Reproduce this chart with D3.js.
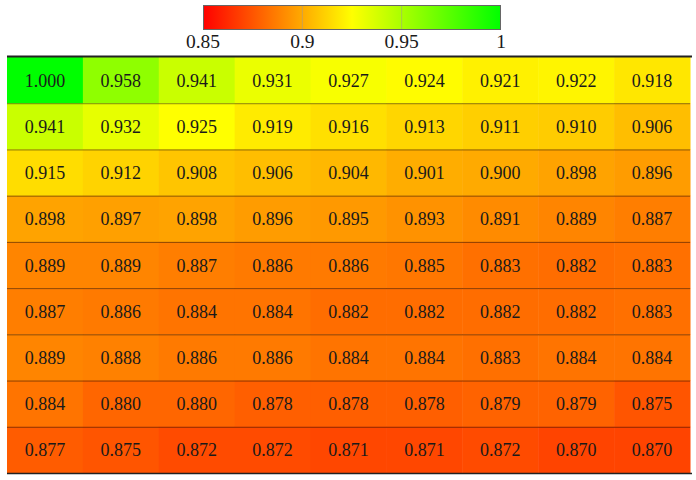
<!DOCTYPE html>
<html>
<head>
<meta charset="utf-8">
<script src="https://cdn.jsdelivr.net/npm/d3@7"></script>
<style>
  html, body { margin: 0; padding: 0; background: #fff; }
  svg { display: block; }
</style>
</head>
<body>
<svg id="chart" width="696" height="480"></svg>
<script>
const rows = ["r1","r2","r3","r4","r5","r6","r7","r8","r9"];
const cols = ["c1","c2","c3","c4","c5","c6","c7","c8","c9"];
const values = [
  [1.000, 0.958, 0.941, 0.931, 0.927, 0.924, 0.921, 0.922, 0.918],
  [0.941, 0.932, 0.925, 0.919, 0.916, 0.913, 0.911, 0.910, 0.906],
  [0.915, 0.912, 0.908, 0.906, 0.904, 0.901, 0.900, 0.898, 0.896],
  [0.898, 0.897, 0.898, 0.896, 0.895, 0.893, 0.891, 0.889, 0.887],
  [0.889, 0.889, 0.887, 0.886, 0.886, 0.885, 0.883, 0.882, 0.883],
  [0.887, 0.886, 0.884, 0.884, 0.882, 0.882, 0.882, 0.882, 0.883],
  [0.889, 0.888, 0.886, 0.886, 0.884, 0.884, 0.883, 0.884, 0.884],
  [0.884, 0.880, 0.880, 0.878, 0.878, 0.878, 0.879, 0.879, 0.875],
  [0.877, 0.875, 0.872, 0.872, 0.871, 0.871, 0.872, 0.870, 0.870]
];
const colorStops = [0.85, 0.925, 1.0];
const colorRange = ["#ff0000", "#ffff00", "#00ff00"];
const cbTicks = [0.85, 0.9, 0.95, 1];
const cbTickLabels = ["0.85", "0.9", "0.95", "1"];

const svg = d3.select("#chart");
const font = "'Liberation Serif', 'DejaVu Serif', serif";

const color = d3.scaleLinear().domain(colorStops).range(colorRange).clamp(true);

// grid geometry
const gx0 = 7, gx1 = 690, gy0 = 57, gy1 = 473;
const x = d3.scaleBand().domain(cols).range([gx0, gx1]).padding(0);
const y = d3.scaleBand().domain(rows).range([gy0, gy1]).padding(0);

const cells = [];
values.forEach((row, i) => row.forEach((v, j) => cells.push({r: rows[i], c: cols[j], v})));

const g = svg.append("g");
g.selectAll("rect.cell").data(cells).join("rect")
  .attr("class", "cell")
  .attr("x", d => x(d.c))
  .attr("y", d => y(d.r))
  .attr("width", x.bandwidth() + 0.5)
  .attr("height", y.bandwidth() + 0.5)
  .attr("fill", d => color(d.v));

g.selectAll("text.val").data(cells).join("text")
  .attr("class", "val")
  .attr("x", d => x(d.c) + x.bandwidth() / 2)
  .attr("y", d => y(d.r) + y.bandwidth() / 2 + 0.5)
  .attr("text-anchor", "middle")
  .attr("dominant-baseline", "central")
  .attr("font-family", font)
  .attr("font-size", 18)
  .attr("fill", "#1a1a1a")
  .text(d => d.v.toFixed(3));

// row separators
g.selectAll("line.sep").data(rows.slice(1)).join("line")
  .attr("class", "sep")
  .attr("x1", gx0).attr("x2", gx1)
  .attr("y1", d => y(d) + 0.5).attr("y2", d => y(d) + 0.5)
  .attr("stroke", "#000").attr("stroke-opacity", 0.45).attr("stroke-width", 1);

// top and bottom rules
g.append("line").attr("x1", gx0).attr("x2", gx1 + 2).attr("y1", gy0 - 0.5).attr("y2", gy0 - 0.5)
  .attr("stroke", "#222").attr("stroke-width", 2);
g.append("line").attr("x1", gx0).attr("x2", gx1 + 2).attr("y1", gy1 + 0.5).attr("y2", gy1 + 0.5)
  .attr("stroke", "#222").attr("stroke-width", 1.5);

// colorbar
const cbx0 = 203, cbx1 = 501, cby0 = 5, cbh = 25;
const cbScale = d3.scaleLinear().domain([0.85, 1]).range([cbx0, cbx1]);
const defs = svg.append("defs");
const grad = defs.append("linearGradient").attr("id", "cbgrad")
  .attr("x1", "0%").attr("x2", "100%").attr("y1", "0%").attr("y2", "0%");
grad.selectAll("stop").data(colorStops).join("stop")
  .attr("offset", d => ((d - 0.85) / 0.15 * 100) + "%")
  .attr("stop-color", d => color(d));

svg.append("rect").attr("x", cbx0).attr("y", cby0)
  .attr("width", cbx1 - cbx0).attr("height", cbh)
  .attr("fill", "url(#cbgrad)");
svg.selectAll("line.cbgrid").data(cbTicks.slice(1, -1)).join("line")
  .attr("class", "cbgrid")
  .attr("x1", d => cbScale(d)).attr("x2", d => cbScale(d))
  .attr("y1", cby0).attr("y2", cby0 + cbh)
  .attr("stroke", "#999").attr("stroke-opacity", 0.5).attr("stroke-width", 1);
svg.append("rect").attr("x", cbx0 + 0.5).attr("y", cby0 + 0.5)
  .attr("width", cbx1 - cbx0 - 1).attr("height", cbh - 1)
  .attr("fill", "none").attr("stroke", "#666").attr("stroke-width", 1);

svg.selectAll("text.cbt").data(cbTicks).join("text")
  .attr("class", "cbt")
  .attr("x", d => cbScale(d))
  .attr("y", 47.5)
  .attr("text-anchor", "middle")
  .attr("font-family", font)
  .attr("font-size", 19.5)
  .attr("fill", "#1a1a1a")
  .text((d, i) => cbTickLabels[i]);
</script>
</body>
</html>
